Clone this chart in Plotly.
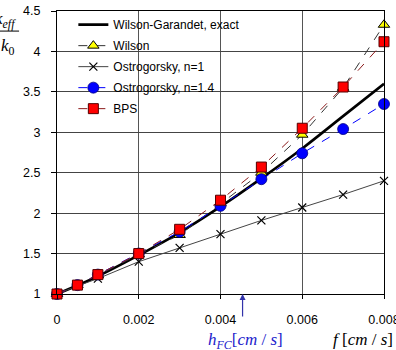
import plotly.graph_objects as go

# ---- data ----
f_pts = [0, 0.0005, 0.001, 0.002, 0.003, 0.004, 0.005, 0.006, 0.007, 0.008]
wilson = [1.0, 1.11, 1.23, 1.49, 1.73, 2.12, 2.50, 2.97, 3.55, 4.33]
ostro_n1 = [1.0, 1.10, 1.19, 1.40, 1.57, 1.74, 1.91, 2.07, 2.23, 2.40]
ostro_n14 = [1.0, 1.11, 1.24, 1.50, 1.77, 2.09, 2.42, 2.74, 3.04, 3.35]
bps = [1.0, 1.11, 1.24, 1.50, 1.80, 2.16, 2.57, 3.05, 3.56, 4.12]
exact_f = [0, 0.001, 0.002, 0.003, 0.004, 0.005, 0.006, 0.007, 0.008]
exact = [1.0, 1.22, 1.48, 1.76, 2.08, 2.43, 2.80, 3.20, 3.60]

x_tickvals = [0, 0.002, 0.004, 0.006, 0.008]
x_ticktext = ["0", "0.002", "0.004", "0.006", "0.008"]
y_tickvals = [1, 1.5, 2, 2.5, 3, 3.5, 4, 4.5]
y_ticktext = ["1", "1.5", "2", "2.5", "3", "3.5", "4", "4.5"]
hfc = 0.00454

fig = go.Figure()
fig.add_trace(go.Scatter(x=exact_f, y=exact, mode="lines", name="Wilson-Garandet, exact",
                         legendgroup="g1",
                         line=dict(color="black", width=2.6, shape="spline"), cliponaxis=False))
fig.add_trace(go.Scatter(x=f_pts, y=wilson, mode="lines+markers", name="Wilson",
                         legendgroup="g2",
                         line=dict(color="#333333", width=1, dash="dash"),
                         marker=dict(symbol="triangle-up", size=10, color="#FFFF00",
                                     line=dict(color="black", width=1)), cliponaxis=False))
fig.add_trace(go.Scatter(x=f_pts, y=ostro_n1, mode="lines+markers", name="Ostrogorsky, n=1",
                         legendgroup="g3",
                         line=dict(color="#444444", width=1),
                         marker=dict(symbol="x-thin", size=8, color="black",
                                     line=dict(color="black", width=1.2)), cliponaxis=False))
fig.add_trace(go.Scatter(x=f_pts, y=ostro_n14, mode="lines+markers", name="Ostrogorsky, n=1.4",
                         legendgroup="g4",
                         line=dict(color="#0000FF", width=1, dash="dash"),
                         marker=dict(symbol="circle", size=11, color="#0000FF",
                                     line=dict(color="#000080", width=0.8)), cliponaxis=False))
fig.add_trace(go.Scatter(x=f_pts, y=bps, mode="lines+markers", name="BPS",
                         legendgroup="g5",
                         line=dict(color="#8B1A1A", width=1, dash="dash"),
                         marker=dict(symbol="square", size=10, color="#FF0000",
                                     line=dict(color="#550000", width=1)), cliponaxis=False))

fig.update_layout(
    width=396, height=350,
    margin=dict(l=57, r=12, t=11, b=56, autoexpand=False),
    paper_bgcolor="white", plot_bgcolor="white",
    font=dict(family="Liberation Sans, Arial, sans-serif", size=12.5, color="black"),
    showlegend=True,
    legend=dict(x=0.05, y=1.003, xanchor="left", yanchor="top", bgcolor="rgba(0,0,0,0)",
                borderwidth=0, font=dict(size=12), traceorder="grouped", tracegroupgap=2),
    xaxis=dict(range=[0, 0.008], tickvals=x_tickvals, ticktext=x_ticktext,
               showgrid=True, gridcolor="#555555", gridwidth=1,
               showline=True, linecolor="black", linewidth=1, mirror=True,
               ticks="outside", ticklen=4, tickcolor="black", zeroline=False,
               ticklabelstandoff=10, ticklabeloverflow="allow", automargin=False),
    yaxis=dict(range=[1, 4.5], tickvals=y_tickvals, ticktext=y_ticktext,
               showgrid=True, gridcolor="#444444", gridwidth=1,
               showline=True, linecolor="black", linewidth=1, mirror=True,
               ticks="outside", ticklen=5, tickcolor="black", zeroline=False,
               ticklabelstandoff=8, automargin=False),
)

# white legend backdrop over the gridlines, under the traces
fig.add_shape(type="rect", xref="paper", yref="paper", x0=0, x1=0.575, y0=0.615, y1=0.989,
              fillcolor="white", line=dict(width=0), layer="between")

# arrow for h_FC
fig.add_annotation(x=hfc, y=1, xref="x", yref="y", text="", showarrow=True,
                   ax=0, ay=24, arrowhead=2, arrowsize=1, arrowwidth=1.2,
                   arrowcolor="#3333AA")
fig.add_annotation(x=hfc, y=-0.166, xref="x", yref="paper", yanchor="middle", xshift=3,
                   text="<i>h<sub>FC</sub></i>[<i>cm</i> / <i>s</i>]", showarrow=False,
                   font=dict(family="Liberation Serif, Times New Roman, serif", size=17, color="#2222CC"))
fig.add_annotation(x=1.035, y=-0.162, xref="paper", yref="paper", xanchor="right", yanchor="middle",
                   text="<i>f</i> [<i>cm</i> / <i>s</i>]", showarrow=False,
                   font=dict(family="Liberation Serif, Times New Roman, serif", size=17, color="black"))

# y title as a fraction
fig.add_annotation(x=-0.118, y=0.968, xref="paper", yref="paper", xanchor="right", yanchor="middle",
                   text="<i>k<sub>eff</sub></i>", showarrow=False,
                   font=dict(family="Liberation Serif, Times New Roman, serif", size=17, color="black"))
fig.add_annotation(x=-0.15, y=0.873, xref="paper", yref="paper", xanchor="center", yanchor="middle",
                   text="<i>k</i><sub>0</sub>", showarrow=False,
                   font=dict(family="Liberation Serif, Times New Roman, serif", size=17, color="black"))
fig.add_shape(type="line", xref="paper", yref="paper", x0=-0.175, x1=-0.116, y0=0.929, y1=0.929,
              line=dict(color="black", width=1))

fig.write_html("out.html")
